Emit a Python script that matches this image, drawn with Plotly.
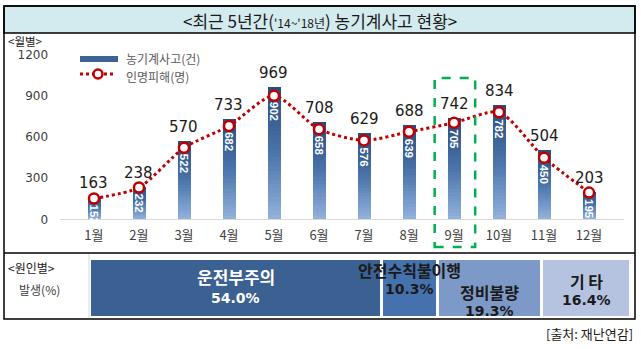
import plotly.graph_objects as go

# ---------------- data ----------------
months = ["1월", "2월", "3월", "4월", "5월", "6월", "7월", "8월", "9월", "10월", "11월", "12월"]
accidents = [163, 238, 570, 733, 969, 708, 629, 688, 742, 834, 504, 203]   # 농기계사고(건)
casualties = [152, 232, 522, 682, 902, 658, 576, 639, 705, 782, 450, 195]  # 인명피해(명)
y_ticks = [0, 300, 600, 900, 1200]

causes = ["운전부주의", "안전수칙불이행", "정비불량", "기 타"]
cause_pct = [54.0, 10.3, 19.3, 16.4]

# ---------------- helpers ----------------
W, H = 641, 349
KR = "Noto Sans CJK KR"
NUM = "DejaVu Sans"


def px(x):
    return x / W


def py(y):
    return 1 - y / H


def lerp_col(c1, c2, t):
    a = [int(c1[i:i + 2], 16) for i in (1, 3, 5)]
    b = [int(c2[i:i + 2], 16) for i in (1, 3, 5)]
    return "rgb(%d,%d,%d)" % tuple(round(a[i] + (b[i] - a[i]) * t) for i in range(3))


def grad(t):  # t: 0 bottom -> 1 top
    bottom, mid, top = "#93b2dc", "#4a74ab", "#2a4c7c"
    if t < 0.5:
        return lerp_col(bottom, mid, t / 0.5)
    return lerp_col(mid, top, (t - 0.5) / 0.5)


fig = go.Figure()

# gradient bars (overlayed, tallest first)
N = 30
for k in range(N):
    frac = (N - k) / N
    fig.add_trace(go.Bar(
        x=months, y=[v * frac for v in accidents], width=0.3,
        marker=dict(color=grad(frac - 0.5 / N), line=dict(width=0)),
        showlegend=False, hoverinfo="skip", xaxis="x", yaxis="y"))

# casualty line
fig.add_trace(go.Scatter(
    x=months, y=casualties, mode="lines+markers",
    line=dict(color="#c00000", width=3, dash="dot", shape="spline", smoothing=0.7),
    marker=dict(symbol="circle", size=10, color="white", line=dict(color="#c00000", width=2.5)),
    showlegend=False, xaxis="x", yaxis="y"))

# cause bar (horizontal, stacked via base)
cause_cols = ["#3b6092", "#4571ad", "#7d99c8", "#b5c3e1"]
base = 0
centers = []
for name, p, c in zip(causes, cause_pct, cause_cols):
    fig.add_trace(go.Bar(
        y=["원인"], x=[p], base=[base], orientation="h", width=1,
        marker=dict(color=c, line=dict(color="white", width=3)),
        showlegend=False, hoverinfo="skip", xaxis="x2", yaxis="y2"))
    centers.append(base + p / 2)
    base += p

ann = []
# accident labels above bars
for m, a in zip(months, accidents):
    ann.append(dict(x=m, y=a, xref="x", yref="y", text=str(a), showarrow=False,
                    xanchor="center", yanchor="bottom", yshift=3,
                    font=dict(family=NUM, size=15, color="#1a1a1a")))
# casualty labels inside bars (rotated)
for m, c in zip(months, casualties):
    ann.append(dict(x=m, y=c, xref="x", yref="y", text="<b>%d</b>" % c, showarrow=False,
                    textangle=90, xanchor="center", yanchor="top", yshift=-5.5, borderpad=0,
                    font=dict(family="Liberation Sans", size=11.5, color="white")))

# cause labels
lab_y = [(276, 298), (270, 289), (292, 311), (281, 300)]
for i, (name, p) in enumerate(zip(causes, cause_pct)):
    col = "white" if i == 0 else "#1a1a1a"
    ann.append(dict(x=centers[i], y=py(lab_y[i][0]), xref="x2", yref="paper",
                    xanchor="center", yanchor="middle",
                    text="<b>%s</b>" % name, showarrow=False,
                    font=dict(family=KR, size=17 if i == 0 else 16, color=col)))
    ann.append(dict(x=centers[i], y=py(lab_y[i][1]), xref="x2", yref="paper",
                    xanchor="center", yanchor="middle",
                    text="<b>%.1f%%</b>" % p, showarrow=False,
                    font=dict(family=NUM, size=14, color=col)))


def txt(x, y, s, size, color="#1a1a1a", xanchor="left"):
    return dict(x=px(x), y=py(y), xref="paper", yref="paper", xanchor=xanchor, yanchor="middle",
                showarrow=False, text=s, font=dict(family=KR, size=size, color=color))


ann += [
    txt(320, 20, "&lt;최근 5년간(<span style='font-size:12px'>'14~'18년</span>) 농기계사고 현황&gt;",
        17, xanchor="center"),
    txt(6, 41, "&lt;월별&gt;", 11.5),
    txt(124, 58, "농기계사고(건)", 12, "#595959"),
    txt(124, 76, "인명피해(명)", 12, "#595959"),
    txt(6, 267, "&lt;원인별&gt;", 12),
    txt(17, 289, "발생(%)", 12, "#404040"),
    txt(635, 333, "[출처: 재난연감]", 13, xanchor="right"),
]

shapes = [
    # title band
    dict(type="rect", xref="paper", yref="paper", x0=px(4), x1=px(635), y0=py(33), y1=py(6),
         fillcolor="#d3ebef", line=dict(color="black", width=1.5), layer="below"),
    # outer box
    dict(type="rect", xref="paper", yref="paper", x0=px(4), x1=px(635), y0=py(319), y1=py(6),
         line=dict(color="black", width=1.5)),
    dict(type="line", xref="paper", yref="paper", x0=px(4), x1=px(635), y0=py(253), y1=py(253),
         line=dict(color="black", width=1.5)),
    dict(type="line", xref="paper", yref="paper", x0=px(89), x1=px(89), y0=py(254), y1=py(318),
         line=dict(color="#d9d9d9", width=1)),
    # legend swatches
    dict(type="rect", xref="paper", yref="paper", x0=px(80), x1=px(118), y0=py(62), y1=py(56),
         fillcolor="#3e6497", line=dict(width=0)),
    dict(type="line", xref="paper", yref="paper", x0=px(80), x1=px(116), y0=py(74), y1=py(74),
         line=dict(color="#c00000", width=3, dash="dot")),
    dict(type="circle", xref="paper", yref="paper", x0=px(93.5), x1=px(102.5), y0=py(78.5), y1=py(69.5),
         fillcolor="white", line=dict(color="#c00000", width=2.5)),
    # highlight box around September
    dict(type="rect", xref="x", yref="paper", x0=7.57, x1=8.47, y0=py(247), y1=py(78),
         line=dict(color="#00b050", width=2.5, dash="dash")),
]

fig.update_layout(
    width=W, height=H, margin=dict(l=0, r=0, t=0, b=0),
    paper_bgcolor="white", plot_bgcolor="rgba(0,0,0,0)",
    barmode="overlay", bargap=0, showlegend=False,
    xaxis=dict(domain=[px(59.5), px(623.5)], type="category", showgrid=False, zeroline=False,
               showline=True, linecolor="#d9d9d9", linewidth=1, automargin=False,
               ticks="outside", ticklen=4, tickcolor="rgba(0,0,0,0)",
               tickfont=dict(family=KR, size=13, color="#404040"), fixedrange=True),
    yaxis=dict(domain=[py(219.3), py(55)], range=[0, 1200], tickvals=y_ticks,
               showgrid=False, zeroline=False, showline=False, automargin=False,
               ticks="outside", ticklen=8, tickcolor="rgba(0,0,0,0)",
               tickfont=dict(family=NUM, size=12, color="#404040")),
    xaxis2=dict(domain=[px(90), px(630.5)], range=[0, 100], visible=False, anchor="y2"),
    yaxis2=dict(domain=[py(318), py(259)], range=[-0.5, 0.5], visible=False, anchor="x2"),
    annotations=ann, shapes=shapes,
)

fig.write_html("out.html")
